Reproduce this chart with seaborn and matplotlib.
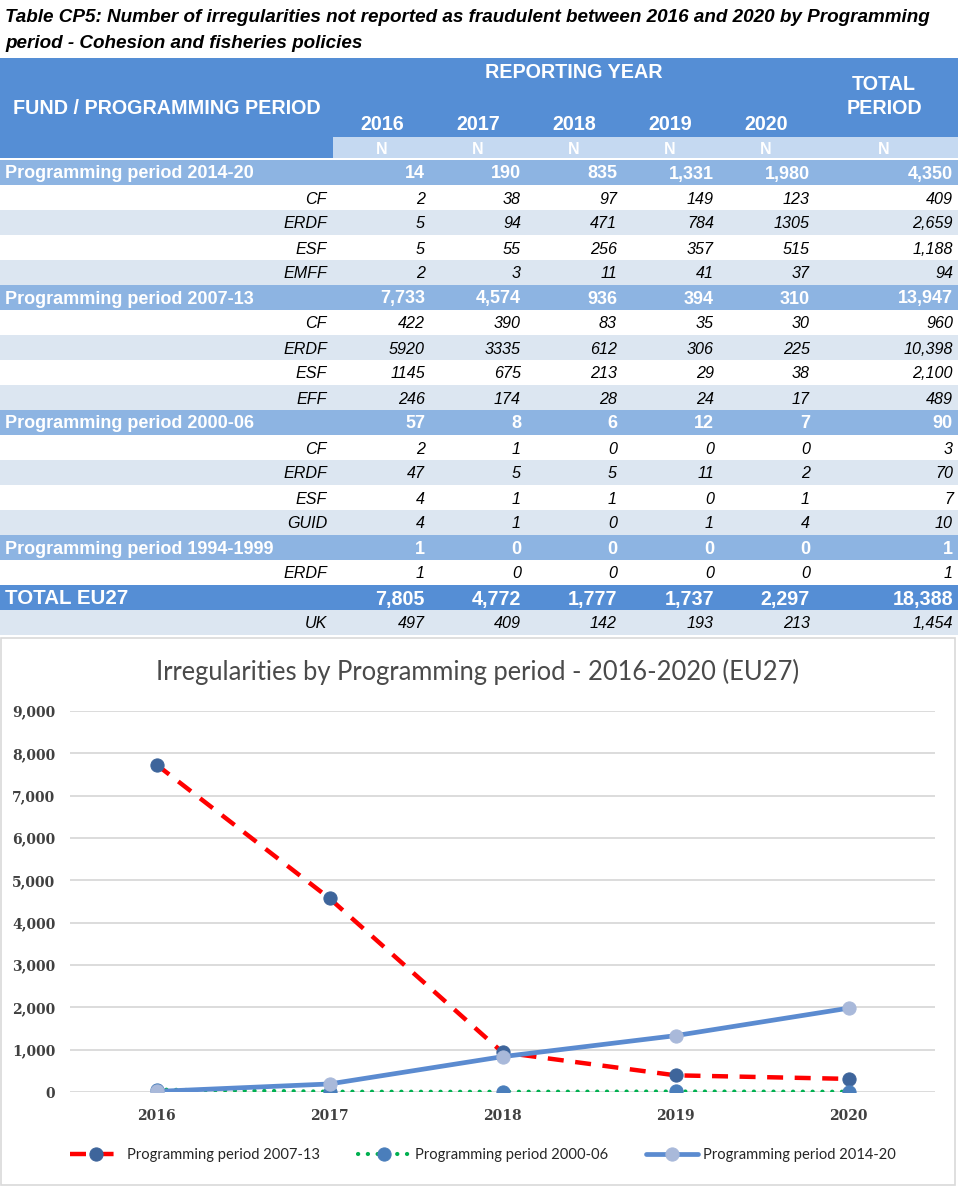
import matplotlib
matplotlib.use("Agg")
import matplotlib.pyplot as plt
from matplotlib.patches import Rectangle
import seaborn as sns
import pandas as pd

# ---------------- data ----------------
table_title = ["Table CP5: Number of irregularities not reported as fraudulent between 2016 and 2020 by Programming",
               "period - Cohesion and fisheries policies"]
years = ["2016", "2017", "2018", "2019", "2020"]
row_labels = ["Programming period 2014-20", "CF", "ERDF", "ESF", "EMFF",
              "Programming period 2007-13", "CF", "ERDF", "ESF", "EFF",
              "Programming period 2000-06", "CF", "ERDF", "ESF", "GUID",
              "Programming period 1994-1999", "ERDF", "TOTAL EU27", "UK"]
row_kinds = ["period", "fund", "fund", "fund", "fund",
             "period", "fund", "fund", "fund", "fund",
             "period", "fund", "fund", "fund", "fund",
             "period", "fund", "total", "uk"]
row_values = [
    ["14", "190", "835", "1,331", "1,980", "4,350"],
    ["2", "38", "97", "149", "123", "409"],
    ["5", "94", "471", "784", "1305", "2,659"],
    ["5", "55", "256", "357", "515", "1,188"],
    ["2", "3", "11", "41", "37", "94"],
    ["7,733", "4,574", "936", "394", "310", "13,947"],
    ["422", "390", "83", "35", "30", "960"],
    ["5920", "3335", "612", "306", "225", "10,398"],
    ["1145", "675", "213", "29", "38", "2,100"],
    ["246", "174", "28", "24", "17", "489"],
    ["57", "8", "6", "12", "7", "90"],
    ["2", "1", "0", "0", "0", "3"],
    ["47", "5", "5", "11", "2", "70"],
    ["4", "1", "1", "0", "1", "7"],
    ["4", "1", "0", "1", "4", "10"],
    ["1", "0", "0", "0", "0", "1"],
    ["1", "0", "0", "0", "0", "1"],
    ["7,805", "4,772", "1,777", "1,737", "2,297", "18,388"],
    ["497", "409", "142", "193", "213", "1,454"],
]

chart_title = "Irregularities by Programming period - 2016-2020 (EU27)"
chart_years = [2016, 2017, 2018, 2019, 2020]
pp_2007_13 = [7733, 4574, 936, 394, 310]
pp_2000_06 = [57, 8, 6, 12, 7]
pp_2014_20 = [14, 190, 835, 1331, 1980]
y_ticks = [0, 1000, 2000, 3000, 4000, 5000, 6000, 7000, 8000, 9000]

# ---------------- figure ----------------
sns.set_theme(style="white")
plt.rcParams["font.family"] = ["Liberation Sans", "DejaVu Sans"]

W, H = 958, 1187
fig = plt.figure(figsize=(W / 100, H / 100), dpi=100)
fig.patch.set_facecolor("white")

ax_t = fig.add_axes([0, 0, 1, 1])
ax_t.set_xlim(0, W)
ax_t.set_ylim(H, 0)
ax_t.axis("off")

HEADER = "#558ED5"
NROW = "#C5D9F1"
PERIOD = "#8DB4E2"
LIGHT = "#DCE6F1"

# title
ax_t.text(5, 17, table_title[0], fontsize=13.6, fontweight="bold", fontstyle="italic",
          va="center", ha="left", color="black")
ax_t.text(5, 44, table_title[1], fontsize=13.6, fontweight="bold", fontstyle="italic",
          va="center", ha="left", color="black")

# header
ax_t.add_patch(Rectangle((0, 58), W, 100, facecolor=HEADER, edgecolor="none"))
ax_t.add_patch(Rectangle((333, 137), W - 333, 21, facecolor=NROW, edgecolor="none"))
ax_t.text(167, 109, "FUND / PROGRAMMING PERIOD", fontsize=14.2, fontweight="bold",
          color="white", ha="center", va="center")
ax_t.text(574, 72, "REPORTING YEAR", fontsize=14.2, fontweight="bold",
          color="white", ha="center", va="center")
ax_t.text(884, 84, "TOTAL", fontsize=14.2, fontweight="bold", color="white",
          ha="center", va="center")
ax_t.text(884, 109, "PERIOD", fontsize=14.2, fontweight="bold", color="white",
          ha="center", va="center")
col_centers = [382, 478, 574, 670, 766, 884]
for cx, yr in zip(col_centers[:5], years):
    ax_t.text(cx, 124, yr, fontsize=14.2, fontweight="bold", color="white",
              ha="center", va="center")
for cx in col_centers:
    ax_t.text(cx, 149, "N", fontsize=11.5, fontweight="bold", color="white",
              ha="center", va="center")

# body rows
col_right = [425, 521, 617, 714, 810, 953]
y0 = 160
rh = 25
fund_counter = 0
for i, (lab, kind, vals) in enumerate(zip(row_labels, row_kinds, row_values)):
    top = y0 + i * rh
    cy = top + rh / 2 + 1.5
    if kind == "period":
        bg = PERIOD
        fund_counter = 0
    elif kind == "total":
        bg = HEADER
    elif kind == "uk":
        bg = LIGHT
    else:
        bg = "white" if fund_counter % 2 == 0 else LIGHT
        fund_counter += 1
    ax_t.add_patch(Rectangle((0, top), W, rh, facecolor=bg, edgecolor="none"))
    if kind == "period":
        ax_t.text(5, cy, lab, fontsize=13.0, fontweight="bold", color="white",
                  ha="left", va="center")
        for xr, v in zip(col_right, vals):
            ax_t.text(xr, cy, v, fontsize=13.0, fontweight="bold", color="white",
                      ha="right", va="center")
    elif kind == "total":
        ax_t.text(5, cy, lab, fontsize=14.8, fontweight="bold", color="white",
                  ha="left", va="center")
        for xr, v in zip(col_right, vals):
            ax_t.text(xr, cy, v, fontsize=14.2, fontweight="bold", color="white",
                      ha="right", va="center")
    else:
        ax_t.text(327, cy, lab, fontsize=11.6, fontstyle="italic", color="black",
                  ha="right", va="center")
        for xr, v in zip(col_right, vals):
            ax_t.text(xr, cy, v, fontsize=11.6, fontstyle="italic", color="black",
                      ha="right", va="center")

# chart frame
ax_t.add_patch(Rectangle((1, 638), 954, 547, facecolor="white", edgecolor="#D9D9D9", lw=1.2))
ax_t.text(478, 672, chart_title, fontsize=18.4, color="#4A4A4A", ha="center", va="center",
          family=["Lato", "DejaVu Sans"])

# ---------------- line chart ----------------
ax = fig.add_axes([70 / W, (H - 1092) / H, 865 / W, 381 / H])
ax.set_facecolor("none")
df = pd.DataFrame({"year": chart_years, "pp0713": pp_2007_13,
                   "pp0006": pp_2000_06, "pp1420": pp_2014_20})

sns.lineplot(data=df, x="year", y="pp0713", ax=ax, color="#FF0000", lw=3.2,
             linestyle=(0, (3.6, 2.6)), marker="o", markersize=9.5,
             markerfacecolor="#3E659B", markeredgecolor="#3E659B",
             label="Programming period 2007-13", zorder=3)
sns.lineplot(data=df, x="year", y="pp0006", ax=ax, color="#00B050", lw=3.0,
             linestyle=(0, (0.05, 2.3)), marker="o", markersize=9.5,
             markerfacecolor="#4A7EBB", markeredgecolor="#4A7EBB",
             label="Programming period 2000-06", zorder=4)
sns.lineplot(data=df, x="year", y="pp1420", ax=ax, color="#5B8BD0", lw=3.4,
             marker="o", markersize=9.5,
             markerfacecolor="#A9B9DA", markeredgecolor="#A9B9DA",
             label="Programming period 2014-20", zorder=5)
for ln in ax.get_lines():
    if ln.get_color() == "#00B050":
        ln.set_dash_capstyle("round")

ax.set_xlim(2015.5, 2020.5)
ax.set_ylim(0, 9000)
ax.set_yticks(y_ticks)
ax.set_yticklabels([f"{t:,}" for t in y_ticks])
ax.set_xticks(chart_years)
ax.set_xticklabels([str(y) for y in chart_years])
ax.set_xlabel("")
ax.set_ylabel("")
ax.grid(axis="y", color="#D9D9D9", lw=1.3, zorder=0)
ax.grid(axis="x", visible=False)
ax.set_axisbelow(True)
for s in ax.spines.values():
    s.set_visible(False)
ax.tick_params(axis="both", length=0, colors="#404040")
ax.tick_params(axis="y", pad=10.5)
ax.tick_params(axis="x", pad=12)
for lbl in ax.get_yticklabels() + ax.get_xticklabels():
    lbl.set_family(["DejaVu Serif"])
    lbl.set_fontweight("bold")
    lbl.set_fontsize(10)
    lbl.set_color("#404040")

leg = ax.legend(loc="center", bbox_to_anchor=(483 / W, (H - 1155) / H),
                bbox_transform=fig.transFigure, ncol=3, frameon=False,
                handlelength=3.5, handletextpad=0.35, columnspacing=2.6,
                prop={"family": ["Lato", "DejaVu Sans"], "size": 10.6})
for t in leg.get_texts():
    t.set_color("#262626")
for lh in leg.get_lines():
    if lh.get_color() == "#00B050":
        lh.set_dash_capstyle("round")

fig.savefig("out.png", dpi=100, facecolor="white")
